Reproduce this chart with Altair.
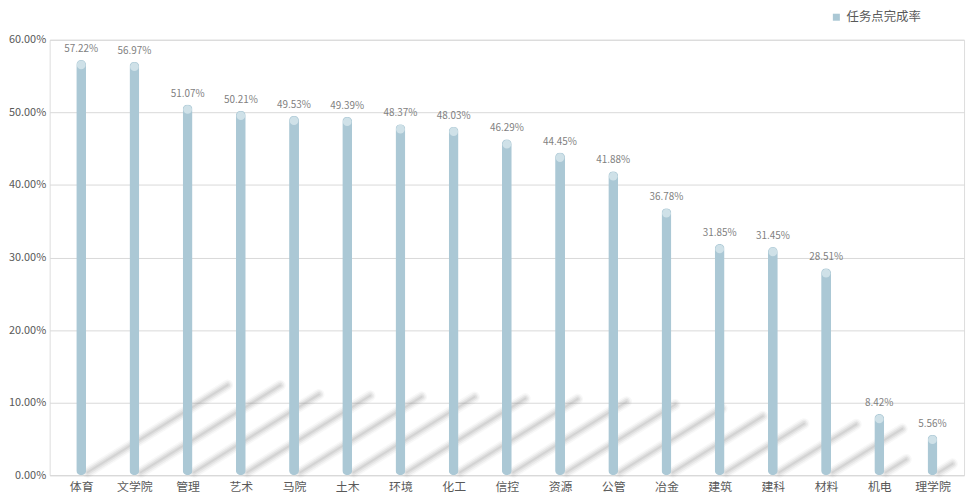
import altair as alt
import pandas as pd

categories = ["体育", "文学院", "管理", "艺术", "马院", "土木", "环境", "化工", "信控",
              "资源", "公管", "冶金", "建筑", "建科", "材料", "机电", "理学院"]
rates = [57.22, 56.97, 51.07, 50.21, 49.53, 49.39, 48.37, 48.03, 46.29,
         44.45, 41.88, 36.78, 31.85, 31.45, 28.51, 8.42, 5.56]
series_name = "任务点完成率"
y_ticks = [0, 0.1, 0.2, 0.3, 0.4, 0.5, 0.6]

df = pd.DataFrame({
    "idx": list(range(len(categories))),
    "cat": categories,
    "rate": [r / 100 for r in rates],
    "series": series_name,
})

FONT = "Noto Sans CJK SC"
BAR = "#abc8d5"
CAP = "#cfe1e8"
label_expr = "[" + ",".join(f"'{c}'" for c in categories) + "][datum.value]"

x_scale = alt.Scale(domain=[-0.5, len(categories) - 0.5], nice=False, zero=False)
y_scale = alt.Scale(domain=[0, 0.6], nice=False)

x_enc = alt.X("idx:Q", scale=x_scale,
              axis=alt.Axis(values=list(range(len(categories))), labelExpr=label_expr,
                            title=None, grid=False, ticks=False, domain=True,
                            domainColor="#d9d9d9", labelFontSize=12, labelColor="#595959",
                            labelFont=FONT, labelPadding=6, labelFlush=False,
                            labelOverlap=False))
y_enc = alt.Y("rate:Q", scale=y_scale,
              axis=alt.Axis(format=".2%", values=y_ticks, title=None, ticks=False,
                            domain=False, gridColor="#d9d9d9", labelFontSize=11,
                            labelColor="#595959", labelFont=FONT, labelPadding=4))

base = alt.Chart(df)

shadow_base = base.transform_calculate(
    xs="datum.idx + 0.12",
    xe="datum.idx + 0.12 + 4.6 * datum.rate",
    ys="0.004",
    ye="0.004 + 0.21 * datum.rate",
)

shadows = []
for w, o in [(11, 0.06), (8, 0.09), (5, 0.13), (2, 0.15)]:
    shadows.append(
        shadow_base.mark_rule(color="#8a8a8a", strokeWidth=w, opacity=o, strokeCap="round").encode(
            x=alt.X("xs:Q", scale=x_scale),
            x2="xe:Q",
            y=alt.Y("ys:Q", scale=y_scale),
            y2="ye:Q",
        )
    )

bars = base.mark_bar(size=10, cornerRadius=5).encode(
    x=x_enc,
    y=y_enc,
    color=alt.Color("series:N", scale=alt.Scale(range=[BAR]),
                    legend=alt.Legend(title=None, orient="none", legendX=787, legendY=-29,
                                      symbolType="square", symbolSize=50, symbolStrokeWidth=0,
                                      labelFontSize=12.5, labelColor="#595959", labelFont=FONT)),
)

caps = base.mark_circle(size=76, yOffset=5, color=CAP, opacity=1).encode(
    x=alt.X("idx:Q", scale=x_scale),
    y=alt.Y("rate:Q", scale=y_scale),
)

labels = base.mark_text(dy=-6, baseline="bottom", fontSize=10, color="#7f7f7f", font=FONT).encode(
    x=alt.X("idx:Q", scale=x_scale),
    y=alt.Y("rate:Q", scale=y_scale),
    text=alt.Text("rate:Q", format=".2%"),
)

chart = alt.layer(*shadows, bars, caps, labels).properties(
    width=922,
    height=439,
    autosize=alt.AutoSizeParams(type="none"),
    padding={"left": 42, "top": 30, "right": 6, "bottom": 24},
    background="white",
).configure_view(strokeWidth=0).configure(font=FONT)

chart.save("out.html", embed_options={"renderer": "svg", "actions": False})
